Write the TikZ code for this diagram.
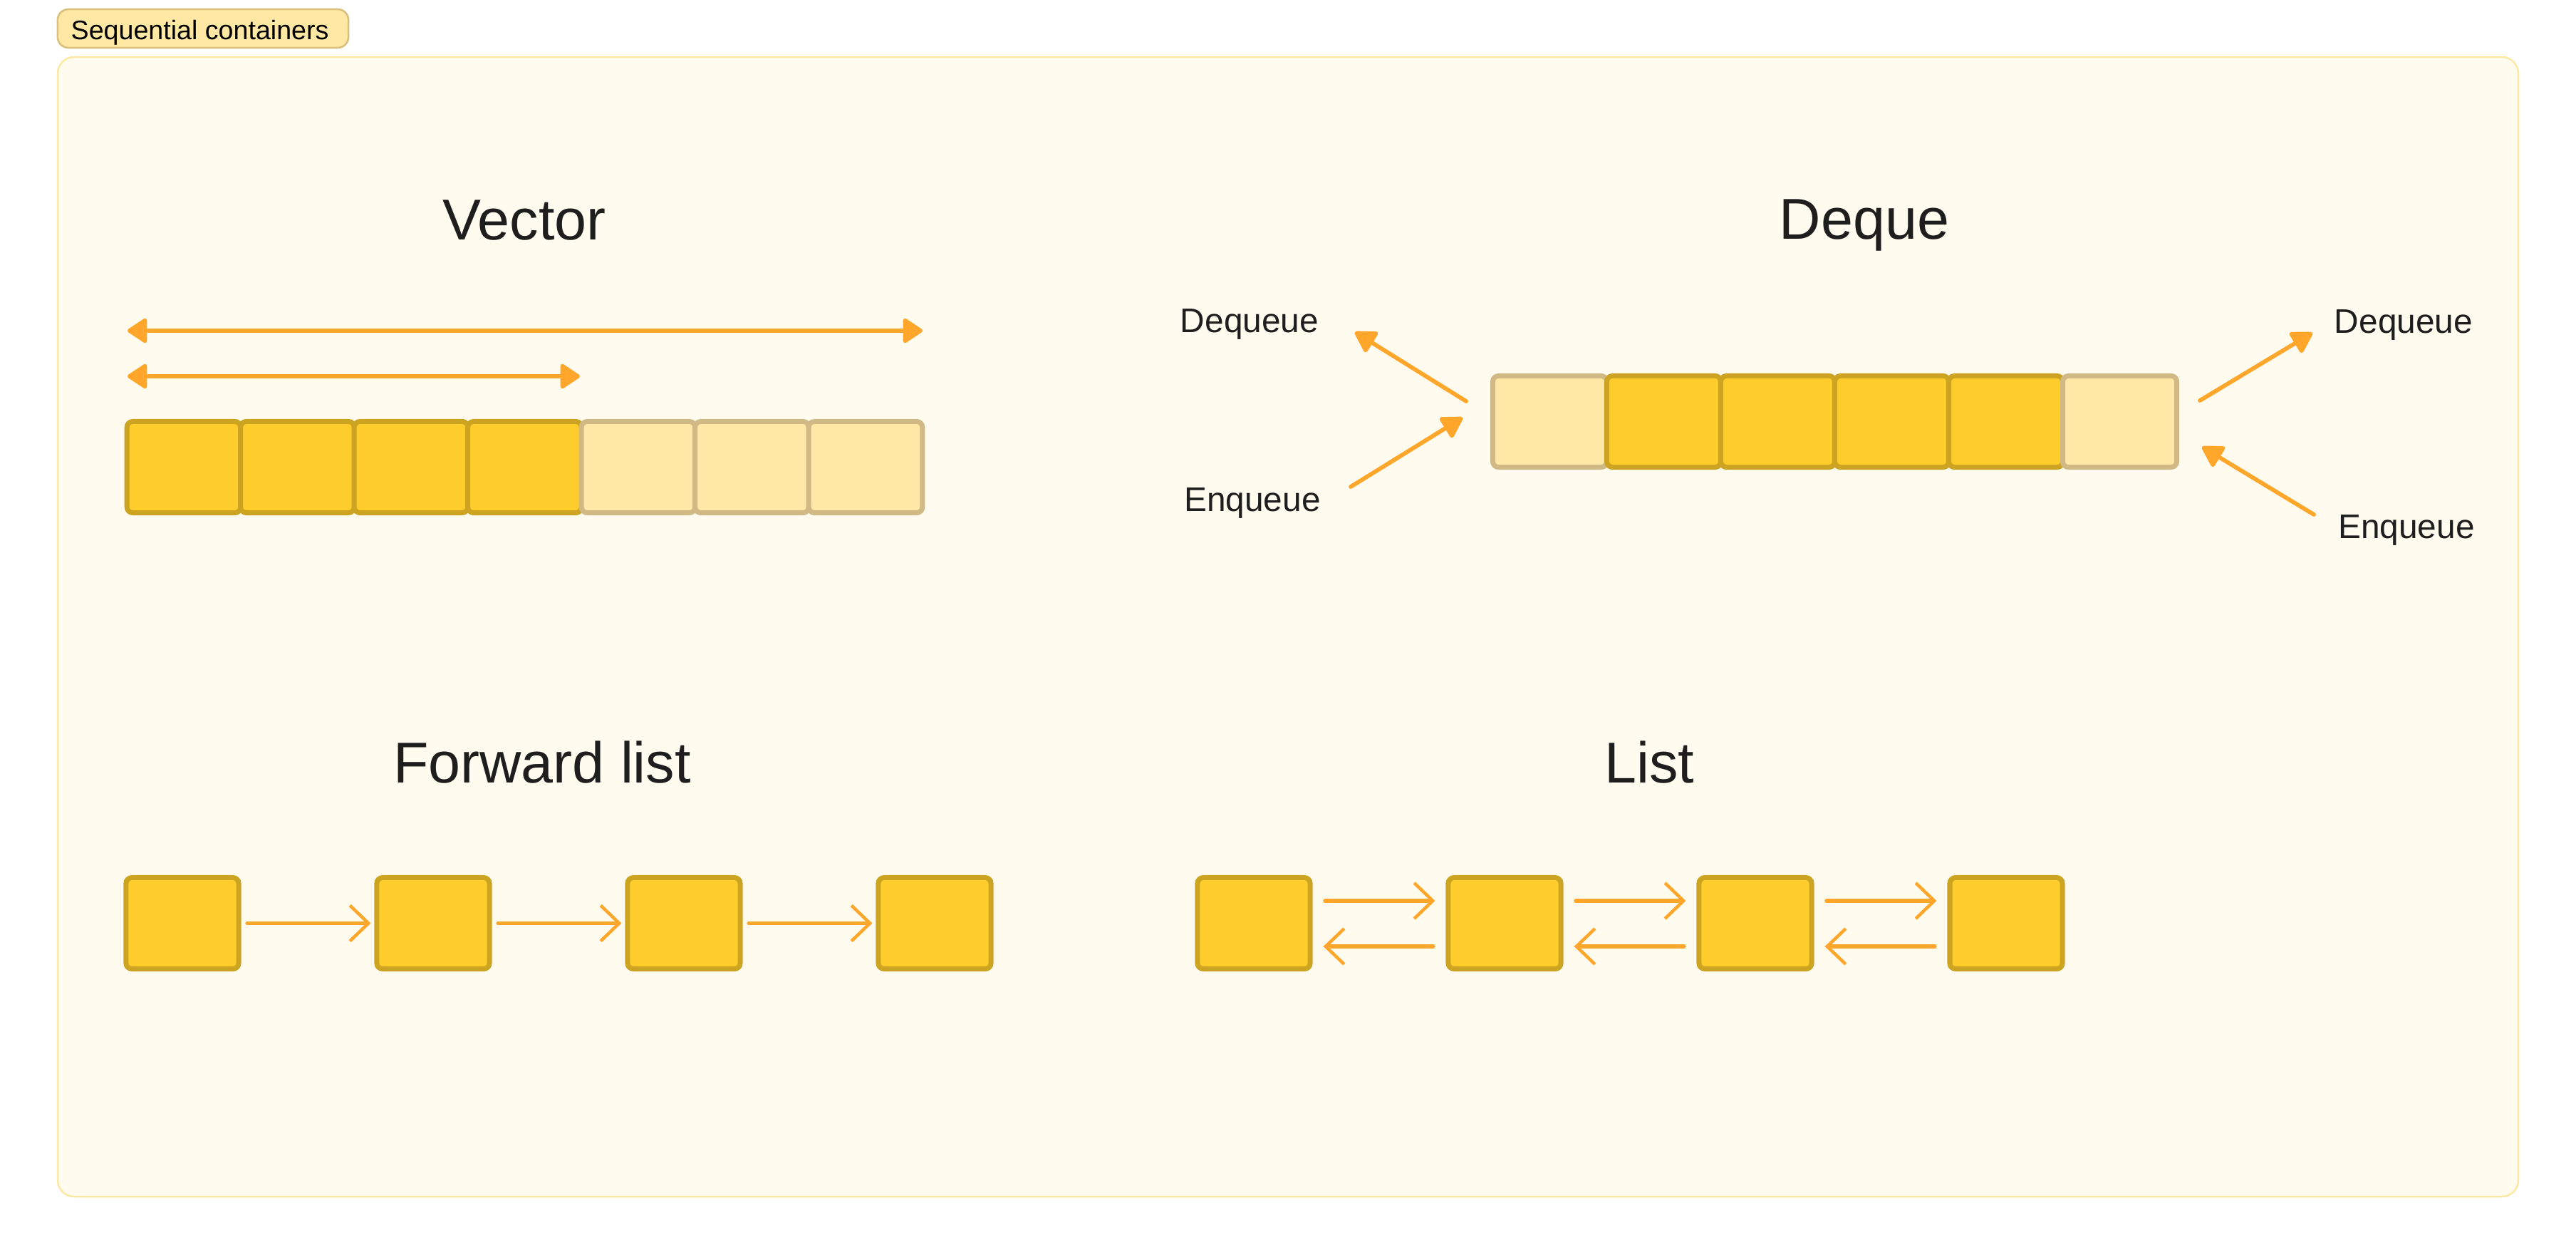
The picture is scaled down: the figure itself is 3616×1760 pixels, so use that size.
\documentclass[tikz,border=0pt]{standalone}
\usepackage{fontspec}
\setmainfont{Liberation Sans}
\usetikzlibrary{arrows.meta}
\definecolor{boxfill}{HTML}{FFFCEF}
\definecolor{boxline}{HTML}{FDE8A4}
\definecolor{tagfill}{HTML}{FEE8A3}
\definecolor{tagline}{HTML}{D8C07C}
\definecolor{darkfill}{HTML}{FECD2C}
\definecolor{darkline}{HTML}{CDA322}
\definecolor{lightfill}{HTML}{FEE8A5}
\definecolor{lightline}{HTML}{CFBA85}
\definecolor{arrowc}{HTML}{FFA62B}
\definecolor{txt}{HTML}{1E1E1E}
\begin{document}
\begin{tikzpicture}[x=0.01cm,y=-0.01cm,
  cellbase/.style={rectangle, rounded corners=0.08cm, line width=0.07cm, inner sep=0pt, minimum height=1.28cm},
  darkcell/.style={cellbase, draw=darkline, fill=darkfill},
  lightcell/.style={cellbase, draw=lightline, fill=lightfill},
  arrcell/.style={minimum width=1.595cm},
  dqcell/.style={minimum width=1.6cm},
  lstcell/.style={darkcell, minimum width=1.58cm},
  title/.style={font=\fontsize{23}{27}\selectfont, text=txt, anchor=base, inner sep=0pt},
  lbl/.style={font=\fontsize{13.6}{16}\selectfont, text=txt, anchor=base, inner sep=0pt},
  fatarrow/.style={draw=arrowc, line width=0.058cm, line cap=round},
  vtip/.tip={Triangle[length=0.3cm, width=0.38cm, round]},
  dtip/.tip={Triangle[length=0.32cm, width=0.36cm, round]},
  barb/.style={draw=arrowc, line width=0.055cm, line cap=round, -{Straight Barb[length=0.26cm, width=0.5cm, line width=0.045cm]}},
]
\useasboundingbox (0,0) rectangle (3616,1760);
\fill[white] (0,0) rectangle (3616,1760);

% container and tag
\draw[fill=boxfill, draw=boxline, line width=0.025cm, rounded corners=0.23cm] (81,80) rectangle (3535,1679);
\node[draw=tagline, fill=tagfill, line width=0.025cm, rounded corners=0.15cm, minimum width=4.08cm, minimum height=0.54cm, inner sep=0pt] (tag) at (285,40) {};
\node[font=\fontsize{10.7}{13}\selectfont, text=black, anchor=base west, inner sep=0pt] (tagtxt) at (99,55) {Sequential containers};

% titles
\node[title] (tvec) at (736,336) {Vector};
\node[title] (tdeq) at (2617,335) {Deque};
\node[title] (tfwd) at (761,1098) {Forward list};
\node[title] (tlst) at (2315,1098) {List};

% vector
\foreach \i/\s in {0/darkcell,1/darkcell,2/darkcell,3/darkcell,4/lightcell,5/lightcell,6/lightcell}{
  \node[\s, arrcell] (v\i) at ({258+159.5*\i},655.5) {};
}
\coordinate (va1) at (179,464);
\coordinate (va2) at (1295,464);
\coordinate (vb1) at (179,528);
\coordinate (vb2) at (814,528);
\draw[fatarrow, vtip-vtip] (va1) -- (va2);
\draw[fatarrow, vtip-vtip] (vb1) -- (vb2);

% deque
\foreach \i/\s in {0/lightcell,1/darkcell,2/darkcell,3/darkcell,4/darkcell,5/lightcell}{
  \node[\s, dqcell] (d\i) at ({2175.5+160*\i},591.5) {};
}
\coordinate (dl1) at (2058,563);
\coordinate (dl2) at (1902,466);
\coordinate (el1) at (1896,683);
\coordinate (el2) at (2053,586);
\coordinate (dr1) at (3088,562);
\coordinate (dr2) at (3246,467);
\coordinate (er1) at (3248,722);
\coordinate (er2) at (3091,627);
\draw[fatarrow, -dtip] (dl1) -- (dl2);
\draw[fatarrow, -dtip] (el1) -- (el2);
\draw[fatarrow, -dtip] (dr1) -- (dr2);
\draw[fatarrow, -dtip] (er1) -- (er2);
\node[lbl] (ldq) at (1754,466) {Dequeue};
\node[lbl] (leq) at (1758,717) {Enqueue};
\node[lbl] (rdq) at (3374,467) {Dequeue};
\node[lbl] (req) at (3378,755) {Enqueue};

% forward list
\foreach \i in {0,1,2,3}{
  \node[lstcell] (f\i) at ({256+352*\i},1295.5) {};
}
\foreach \i/\j in {0/1,1/2,2/3}{
  \draw[barb, shorten <=0.085cm, shorten >=0.05cm] (f\i.east) -- (f\j.west);
}

% list
\foreach \i in {0,1,2,3}{
  \node[lstcell] (l\i) at ({1760+352*\i},1295.5) {};
}
\foreach \i/\j in {0/1,1/2,2/3}{
  \draw[barb, shorten <=0.175cm, shorten >=0.15cm] ([yshift=0.315cm]l\i.east) -- ([yshift=0.315cm]l\j.west);
  \draw[barb, shorten <=0.175cm, shorten >=0.15cm] ([yshift=-0.325cm]l\j.west) -- ([yshift=-0.325cm]l\i.east);
}
\end{tikzpicture}
\end{document}
